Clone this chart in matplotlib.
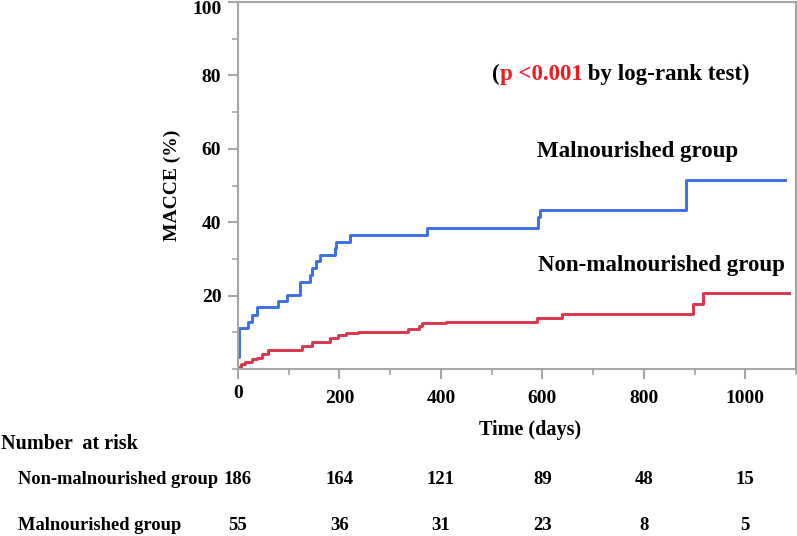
import matplotlib
matplotlib.use("Agg")
import matplotlib.pyplot as plt
from matplotlib.transforms import blended_transform_factory, ScaledTranslation
from matplotlib.ticker import MultipleLocator

# ---- data ----
mal_t = [0, 1, 2, 20, 27, 37, 79, 96, 122, 142, 145, 154, 162, 191, 193, 221, 372, 592, 595, 883, 1078]
mal_y = [3.4, 7.0, 11.1, 12.9, 14.7, 16.8, 18.4, 20.2, 23.8, 25.6, 27.5, 29.3, 31.1, 33.0, 34.7, 36.5, 38.4, 41.5, 43.4, 51.5, 51.5]

non_t = [0, 5, 14, 28, 37, 47, 59, 126, 145, 182, 197, 213, 237, 335, 356, 362, 411, 589, 638, 897, 917, 1086]
non_y = [0.6, 1.4, 2.0, 2.6, 3.1, 4.1, 5.2, 6.4, 7.3, 8.4, 9.3, 9.7, 10.2, 11.0, 11.8, 12.4, 12.9, 13.9, 14.9, 17.6, 20.7, 20.7]

risk_times = [0, 200, 400, 600, 800, 1000]
risk_non = [186, 164, 121, 89, 48, 15]
risk_mal = [55, 36, 31, 23, 8, 5]

x_ticks = [0, 200, 400, 600, 800, 1000]
y_ticks = [20, 40, 60, 80, 100]

W, H = 797, 536
FONT = "Liberation Serif"
BLUE = "#3b6fe3"
RED = "#d9364b"
GRAY = "#a6a6a6"

plt.rcParams["font.family"] = [FONT, "DejaVu Sans"]
plt.rcParams["font.weight"] = "bold"

fig = plt.figure(figsize=(W / 100, H / 100), dpi=100)
ax = fig.add_axes([238 / W, 1 - 369 / H, (796 - 238) / W, (369 - 2) / H])

ax.step(mal_t, mal_y, where="post", color=BLUE, lw=2.1, clip_on=False)
ax.step(non_t, non_y, where="post", color=RED, lw=2.1, clip_on=False)

ax.set_xlim(0, 1100)
ax.set_ylim(0, 100)
ax.set_xticks(x_ticks)
ax.set_yticks(y_ticks)
ax.xaxis.set_minor_locator(MultipleLocator(100))
ax.yaxis.set_minor_locator(MultipleLocator(10))
for s in ax.spines.values():
    s.set_color(GRAY)
    s.set_linewidth(1.5)
ax.tick_params(which="major", length=7, width=1.5, color=GRAY, labelsize=14)
ax.tick_params(which="minor", length=4.5, width=1.2, color=GRAY)
ax.tick_params(axis="x", which="major", pad=8)
ax.tick_params(axis="y", which="major", pad=5)
for lab in ax.get_xticklabels() + ax.get_yticklabels():
    lab.set_fontweight("bold")
    lab.set_fontfamily(FONT)

# nudge the "100" label down and the "0" label up, as in the reference
ylabs = ax.get_yticklabels()
ylabs[-1].set_transform(ylabs[-1].get_transform() + ScaledTranslation(0, -6 / 100, fig.dpi_scale_trans))
xlabs = ax.get_xticklabels()
xlabs[0].set_transform(xlabs[0].get_transform() + ScaledTranslation(0, 5 / 100, fig.dpi_scale_trans))

ax.set_ylabel("MACCE (%)", fontsize=14, fontweight="bold", labelpad=8)

def fx(px):
    return px / W

def fy(py):
    return 1 - py / H

# annotations
fig.text(fx(638), fy(152), "Malnourished group", fontsize=16.5, fontweight="bold",
         ha="center", va="center")
fig.text(fx(661), fy(265), "Non-malnourished group", fontsize=16.5, fontweight="bold",
         ha="center", va="center")

t1 = fig.text(fx(492), fy(80), "(", fontsize=16.5, fontweight="bold", va="baseline", ha="left")
t2 = ax.annotate("p <0.001", xy=(1, 0), xycoords=t1, fontsize=16.5, fontweight="bold",
                 color="#ee1c1c", va="bottom", ha="left")
t3 = ax.annotate(" by log-rank test)", xy=(1, 0), xycoords=t2, fontsize=16.5,
                 fontweight="bold", va="bottom", ha="left")

fig.text(fx(530), fy(430), "Time (days)", fontsize=14.5, fontweight="bold",
         ha="center", va="center")

# number at risk table
fig.text(fx(1), fy(444), "Number  at risk", fontsize=14.5, fontweight="bold",
         ha="left", va="center")
fig.text(fx(18), fy(479), "Non-malnourished group", fontsize=13.3, fontweight="bold",
         ha="left", va="center")
fig.text(fx(18), fy(526), "Malnourished group", fontsize=13.3, fontweight="bold",
         ha="left", va="center")
tr = blended_transform_factory(ax.transData, fig.transFigure)
for t, a, b in zip(risk_times, risk_non, risk_mal):
    fig.text(t, fy(479), str(a), transform=tr, fontsize=13.5, fontweight="bold",
             ha="center", va="center")
    fig.text(t, fy(526), str(b), transform=tr, fontsize=13.5, fontweight="bold",
             ha="center", va="center")

fig.savefig("out.png", dpi=100)
